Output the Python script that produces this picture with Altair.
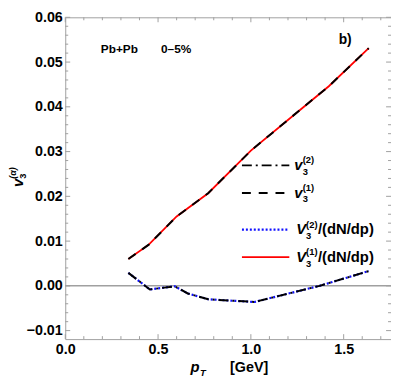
import altair as alt
import pandas as pd

# ---- data ----
pt_upper = [0.34, 0.45, 0.60, 0.77, 1.00, 1.25, 1.42, 1.635]
v3_upper = [0.0060, 0.0092, 0.0155, 0.0207, 0.0302, 0.0388, 0.0446, 0.0531]

pt_lower = [0.34, 0.456, 0.59, 0.66, 0.77, 0.89, 1.02, 1.37, 1.635]
v3_lower = [0.0029, -0.0008, -0.0001, -0.0017, -0.0030, -0.0033, -0.0036, 0.0000, 0.0033]

x_major = [0.0, 0.5, 1.0, 1.5]
x_minor = [0.1, 0.2, 0.3, 0.4, 0.6, 0.7, 0.8, 0.9, 1.1, 1.2, 1.3, 1.4, 1.6, 1.7]
y_major = [-0.01, 0.0, 0.01, 0.02, 0.03, 0.04, 0.05, 0.06]
y_minor = [-0.008, -0.006, -0.004, -0.002,
           0.002, 0.004, 0.006, 0.008, 0.012, 0.014, 0.016, 0.018,
           0.022, 0.024, 0.026, 0.028, 0.032, 0.034, 0.036, 0.038,
           0.042, 0.044, 0.046, 0.048, 0.052, 0.054, 0.056, 0.058]
x_domain = [0.0, 1.755]
y_domain = [-0.0119, 0.06]

W, H = 330, 326
FONT = "Liberation Sans"
FRAME = "#a0a0a0"

xs = alt.Scale(domain=x_domain, nice=False, zero=False)
ys = alt.Scale(domain=y_domain, nice=False, zero=False)
xaxis = alt.Axis(values=x_major, format=".1f", title="", labelPadding=4, labelFlush=False)
yaxis = alt.Axis(values=y_major, format=".2f", title="", labelPadding=3, labelFlush=False,
                 labelExpr="replace(datum.label, '-', '\u2212')")

upper = pd.DataFrame({"pt": pt_upper, "v": v3_upper})
lower = pd.DataFrame({"pt": pt_lower, "v": v3_lower})


def curve(df, **style):
    return alt.Chart(df).mark_line(**style).encode(
        x=alt.X("pt:Q", scale=xs, axis=xaxis),
        y=alt.Y("v:Q", scale=ys, axis=yaxis),
    )


zero_line = alt.Chart(pd.DataFrame({"v": [0.0]})).mark_rule(
    color=FRAME, strokeWidth=1.5).encode(y=alt.Y("v:Q", scale=ys, axis=yaxis))

red = curve(upper, color="#ff0000", strokeWidth=1.8)
blue = curve(lower, color="#1010ff", strokeWidth=2.2, strokeDash=[2, 2])
dashed = curve(upper, color="black", strokeWidth=2, strokeDash=[9, 8])
dashdot = curve(lower, color="black", strokeWidth=2, strokeDash=[10, 4, 2, 4])


def xticks(vals, L):
    df = pd.DataFrame({"pt": vals})
    b = alt.Chart(df).mark_rule(color=FRAME, strokeWidth=1).encode(
        x=alt.X("pt:Q", scale=xs, axis=xaxis), y=alt.value(H), y2=alt.value(H - L))
    t = alt.Chart(df).mark_rule(color=FRAME, strokeWidth=1).encode(
        x=alt.X("pt:Q", scale=xs, axis=xaxis), y=alt.value(0), y2=alt.value(L))
    return [b, t]


def yticks(vals, L):
    df = pd.DataFrame({"v": vals})
    l = alt.Chart(df).mark_rule(color=FRAME, strokeWidth=1).encode(
        y=alt.Y("v:Q", scale=ys, axis=yaxis), x=alt.value(0), x2=alt.value(L))
    r = alt.Chart(df).mark_rule(color=FRAME, strokeWidth=1).encode(
        y=alt.Y("v:Q", scale=ys, axis=yaxis), x=alt.value(W), x2=alt.value(W - L))
    return [l, r]


def txt(s, x, y, size, italic=False, angle=0, weight="bold"):
    kw = dict(align="left", baseline="alphabetic", font=FONT, fontSize=size,
              fontWeight=weight, color="black")
    if italic:
        kw["fontStyle"] = "italic"
    if angle:
        kw["angle"] = angle
    return alt.Chart(pd.DataFrame({"t": [s]})).mark_text(**kw).encode(
        text="t:N", x=alt.value(x), y=alt.value(y))


def sample(y, **style):
    return alt.Chart(pd.DataFrame({"k": [0]})).mark_rule(**style).encode(
        x=alt.value(179), x2=alt.value(227), y=alt.value(y))


legend = [
    sample(150, color="black", strokeWidth=2, strokeDash=[10, 4, 2, 4]),
    sample(178, color="black", strokeWidth=2, strokeDash=[9, 8]),
    sample(215, color="#1010ff", strokeWidth=2.2, strokeDash=[2, 2]),
    sample(243, color="#ff0000", strokeWidth=1.8),
    # v3(2)
    txt("v", 232, 155, 15, italic=True), txt("3", 240.5, 159.5, 9.5), txt("(2)", 240.5, 148, 9.5),
    # v3(1)
    txt("v", 232, 183, 15, italic=True), txt("3", 240.5, 187.5, 9.5), txt("(1)", 240.5, 176, 9.5),
    # V3(2)/(dN/dp)
    txt("V", 234, 220, 15, italic=True), txt("3", 244, 224.5, 9.5), txt("(2)", 244, 213, 9.5),
    txt("/(dN/dp)", 256, 220, 15),
    # V3(1)/(dN/dp)
    txt("V", 234, 248, 15, italic=True), txt("3", 244, 252.5, 9.5), txt("(1)", 244, 241, 9.5),
    txt("/(dN/dp)", 256, 248, 15),
]

labels = [
    txt("Pb+Pb", 36, 36.5, 12),
    txt("0\u20135%", 97, 36.5, 12),
    txt("b)", 277, 27, 14),
    # x title
    txt("p", 127, 359, 15, italic=True),
    txt("T", 136.5, 363, 9.5, italic=True),
    txt("[GeV]", 167, 359, 14.5),
    # y title (rotated)
    txt("v", -43, 172, 15, italic=True, angle=270),
    txt("3", -39.5, 163.5, 9.5, angle=270),
    txt("(\u03b1)", -50, 163.5, 9, italic=True, angle=270),
]

layers = ([zero_line] + xticks(x_major, 5) + xticks(x_minor, 3)
          + yticks(y_major, 5) + yticks(y_minor, 3)
          + [red, blue, dashed, dashdot] + legend + labels)

chart = alt.layer(*layers).properties(
    width=W, height=H,
    autosize=alt.AutoSizeParams(type="none"),
    padding={"left": 58, "top": 7, "right": 0, "bottom": 40},
).configure_view(
    stroke=FRAME, strokeWidth=1
).configure_axis(
    labelFont=FONT, labelFontSize=14.5, labelFontWeight="bold", labelColor="black",
    domain=False, ticks=False, grid=False,
)

chart.save("out.html", embed_options={"renderer": "svg", "actions": False})
